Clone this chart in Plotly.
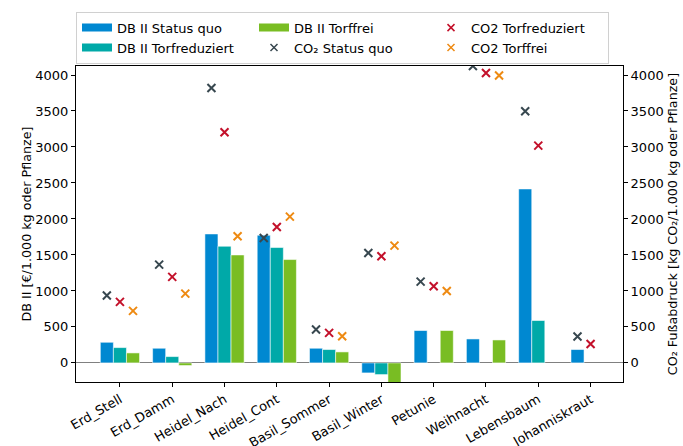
import plotly.graph_objects as go

categories = ["Erd_Stell", "Erd_Damm", "Heidel_Nach", "Heidel_Cont", "Basil_Sommer",
              "Basil_Winter", "Petunie", "Weihnacht", "Lebensbaum", "Johanniskraut"]

db_status_quo = [287, 204, 1792, 1774, 204, -139, 450, 333, 2417, 186]
db_torfreduziert = [213, 88, 1621, 1603, 186, -162, None, None, 589, None]
db_torffrei = [139, -36, 1500, 1436, 153, -300, 450, 319, None, None]

co2_status_quo = [936, 1366, 3820, 1736, 464, 1528, 1130, 4125, 3496, 367]
co2_torfreduziert = [848, 1195, 3204, 1889, 417, 1482, 1065, 4028, 3019, 264]
co2_torffrei = [723, 963, 1760, 2033, 371, 1630, 1000, 3992, None, None]

C_BLUE = "#0088d1"
C_TEAL = "#00a9a8"
C_GREEN = "#79bd23"
C_GREY = "#37474f"
C_RED = "#c3102a"
C_ORANGE = "#ee8a12"

BAR_W = 0.25
OFFSETS = [-BAR_W, 0.0, BAR_W]
idx = list(range(len(categories)))

fig = go.Figure()

bar_series = [("DB II Status quo", db_status_quo, C_BLUE),
              ("DB II Torfreduziert", db_torfreduziert, C_TEAL),
              ("DB II Torffrei", db_torffrei, C_GREEN)]
for name, vals, col in bar_series:
    fig.add_trace(go.Bar(x=idx, y=vals, name=name,
                         marker=dict(color=col, line=dict(color="rgba(255,255,255,0.55)", width=1)),
                         showlegend=False, yaxis="y"))

co2_series = [("CO₂ Status quo", co2_status_quo, C_GREY),
              ("CO2 Torfreduziert", co2_torfreduziert, C_RED),
              ("CO2 Torffrei", co2_torffrei, C_ORANGE)]
for (name, vals, col), off in zip(co2_series, OFFSETS):
    fig.add_trace(go.Scatter(x=[i + off for i in idx], y=vals, name=name, mode="markers",
                             marker=dict(symbol="x-thin", size=8, line=dict(color=col, width=2), color=col),
                             yaxis="y2", showlegend=False))

# legend entries (row-major order reproducing the reference's 3-column layout)
legend_items = [("DB II Status quo", "bar", C_BLUE),
                ("DB II Torffrei", "bar", C_GREEN),
                ("CO2 Torfreduziert", "x", C_RED),
                ("DB II Torfreduziert", "bar", C_TEAL),
                ("CO₂ Status quo", "x", C_GREY),
                ("CO2 Torffrei", "x", C_ORANGE)]
for rank, (name, kind, col) in enumerate(legend_items):
    if kind == "bar":
        fig.add_trace(go.Scatter(x=[None], y=[None], name=name, mode="lines",
                                 line=dict(color=col, width=8), legendrank=rank + 1))
    else:
        fig.add_trace(go.Scatter(x=[None], y=[None], name=name, mode="markers",
                                 marker=dict(symbol="x-thin", size=7, line=dict(color=col, width=1.5)),
                                 legendrank=rank + 1))

FONT = "DejaVu Sans"
yr = [-265, 4125]
TICKS = [0, 500, 1000, 1500, 2000, 2500, 3000, 3500, 4000]
fig.update_layout(
    width=683, height=446,
    margin=dict(l=76, r=60, t=66, b=64),
    paper_bgcolor="white", plot_bgcolor="white",
    font=dict(family=FONT, size=13, color="black"),
    barmode="group", bargap=0.25, bargroupgap=0,
    legend=dict(orientation="h", x=0.0, xanchor="left", y=1.172, yanchor="top",
                entrywidth=132, bordercolor="#d0d0d0", borderwidth=1,
                font=dict(family=FONT, size=13), traceorder="normal",
                tracegroupgap=0),
    xaxis=dict(range=[-0.84, 9.62], tickmode="array", tickvals=idx, ticktext=categories,
               tickangle=-30, showline=True, linecolor="black", linewidth=1, mirror=True,
               ticks="outside", ticklen=4, tickcolor="black", showgrid=False, zeroline=False,
               automargin=False),
    yaxis=dict(range=yr, tickvals=TICKS,
               title=dict(text="DB II [€/1.000 kg oder Pflanze]", standoff=0, font=dict(size=12.7)),
               showline=True, linecolor="black", linewidth=1, ticks="outside", ticklen=4,
               tickcolor="black", showgrid=False, zeroline=True, zerolinecolor="#808080",
               zerolinewidth=1, automargin=False),
    yaxis2=dict(range=yr, overlaying="y", side="right", tickvals=TICKS,
                title=dict(text="CO₂ Fußabdruck [kg CO₂/1.000 kg oder Pflanze]", standoff=5,
                           font=dict(size=12.7)),
                showline=True, linecolor="black", linewidth=1, ticks="outside", ticklen=4,
                tickcolor="black", showgrid=False, zeroline=False, automargin=False),
)

fig.write_html("out.html", config={"displayModeBar": False},
               post_script="document.body.style.margin='0px';")
